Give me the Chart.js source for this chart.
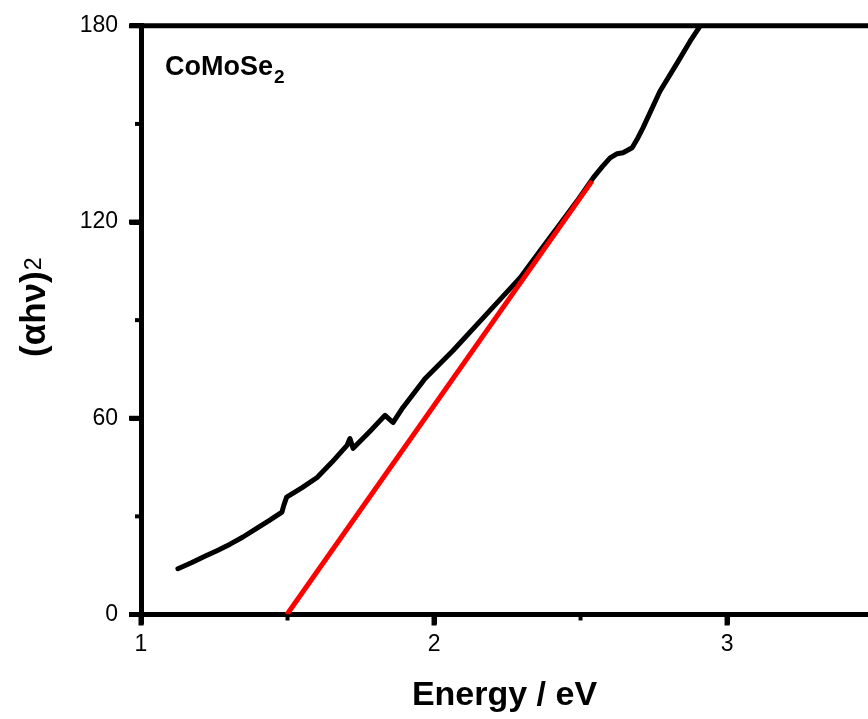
<!DOCTYPE html>
<html>
<head>
<meta charset="utf-8">
<title>CoMoSe2 Tauc plot</title>
<script src="https://cdn.jsdelivr.net/npm/chart.js@4.4.1/dist/chart.umd.min.js"></script>
<style>
  html, body { margin: 0; padding: 0; background: #fff; overflow: hidden; }
  canvas { display: block; }
</style>
</head>
<body>
<canvas id="taucChart" width="868" height="719"></canvas>
<script>
// Data
const energy = [1.126, 1.172, 1.218, 1.261, 1.304, 1.348, 1.392, 1.437, 1.481, 1.487, 1.497,
  1.550, 1.601, 1.652, 1.703, 1.713, 1.724, 1.780, 1.833, 1.860, 1.894, 1.969, 2.065,
  2.181, 2.294, 2.362, 2.430, 2.488, 2.543, 2.575, 2.601, 2.625, 2.645, 2.676, 2.693,
  2.713, 2.771, 2.829, 2.874, 2.908];
const absorption = [14.0, 15.8, 17.8, 19.6, 21.5, 23.7, 26.2, 28.7, 31.3, 33.3, 35.9,
  38.8, 41.9, 46.6, 51.7, 53.8, 50.8, 55.9, 60.9, 58.7, 63.3, 72.1, 80.7,
  92.0, 103.0, 111.2, 119.4, 126.4, 133.5, 137.0, 139.6, 140.9, 141.2, 142.7, 145.3,
  148.8, 160.0, 168.5, 175.3, 179.9];

// Linear fit (band gap extrapolation)
const fitEnergy = [1.498, 2.539];
const fitValue = [0, 132.5];

// Axis ticks
const xTicks = [1, 2, 3];
const yTicks = [0, 60, 120, 180];
const xMinor = [1.5, 2.5];
const yMinor = [30, 90, 150];

const FONT = '"Liberation Sans", Arial, Helvetica, sans-serif';

const toPoints = (xs, ys) => xs.map((x, i) => ({ x: x, y: ys[i] }));

// frame top line, tick marks, sample label and y title
const extras = {
  id: 'extras',
  afterDraw(chart) {
    const { ctx, chartArea, scales } = chart;
    ctx.save();
    ctx.strokeStyle = '#000';
    ctx.lineWidth = 5;
    ctx.beginPath();
    ctx.moveTo(chartArea.left - 2.5, chartArea.top);
    ctx.lineTo(chartArea.right, chartArea.top);
    ctx.stroke();

    const tick = (vals, len, width, axis) => {
      ctx.lineWidth = width;
      vals.forEach(v => {
        ctx.beginPath();
        if (axis === 'x') {
          const px = scales.x.getPixelForValue(v);
          ctx.moveTo(px, chartArea.bottom);
          ctx.lineTo(px, chartArea.bottom + len);
        } else {
          const py = scales.y.getPixelForValue(v);
          ctx.moveTo(chartArea.left, py);
          ctx.lineTo(chartArea.left - len, py);
        }
        ctx.stroke();
      });
    };
    tick(xTicks, 11, 5, 'x');
    tick(yTicks, 12, 5, 'y');
    tick(xMinor, 6, 4, 'x');
    tick(yMinor, 6, 4, 'y');

    // CoMoSe2 label
    ctx.fillStyle = '#000';
    ctx.textAlign = 'left';
    ctx.textBaseline = 'alphabetic';
    ctx.font = 'bold 27px ' + FONT;
    ctx.fillText('CoMoSe', 165, 75);
    const w = ctx.measureText('CoMoSe').width;
    ctx.font = 'bold 19px ' + FONT;
    ctx.fillText('2', 165 + w + 1, 83);

    // y axis title
    ctx.translate(45, 357);
    ctx.rotate(-Math.PI / 2);
    ctx.font = 'bold 35px ' + FONT;
    ctx.fillText('(\u03B1h\u03BD)', 0, 0);
    const tw = ctx.measureText('(\u03B1h\u03BD)').width;
    ctx.font = '23px ' + FONT;
    ctx.fillText('2', tw + 1, -4);
    ctx.restore();
  }
};

const ctx = document.getElementById('taucChart').getContext('2d');

new Chart(ctx, {
  type: 'line',
  data: {
    datasets: [{
      label: 'Linear fit',
      data: toPoints(fitEnergy, fitValue),
      borderColor: '#ff0000',
      borderWidth: 5,
      pointRadius: 0,
      tension: 0
    }, {
      label: 'CoMoSe2',
      data: toPoints(energy, absorption),
      borderColor: '#000000',
      borderWidth: 5,
      borderCapStyle: 'round',
      borderJoinStyle: 'round',
      pointRadius: 0,
      tension: 0
    }]
  },
  plugins: [extras],
  options: {
    responsive: false,
    animation: false,
    devicePixelRatio: 1,
    layout: { padding: { top: 24.5, right: 0, left: 0, bottom: 0 } },
    plugins: {
      legend: { display: false },
      tooltip: { enabled: false }
    },
    scales: {
      x: {
        type: 'linear',
        min: 1,
        max: 3.481,
        afterFit: s => { s.height = 104.5; },
        afterBuildTicks: s => { s.ticks = xTicks.map(v => ({ value: v })); },
        border: { display: true, color: '#000', width: 5 },
        grid: { drawOnChartArea: false, color: '#000', lineWidth: 5, tickLength: 10 },
        ticks: { color: '#000', padding: 6, font: { family: FONT, size: 23 } },
        title: {
          display: true,
          text: 'Energy / eV',
          color: '#000',
          font: { family: FONT, size: 34, weight: 'bold' },
          padding: { top: 0, bottom: 3 }
        }
      },
      y: {
        type: 'linear',
        min: 0,
        max: 180,
        afterFit: s => { s.width = 141; },
        afterBuildTicks: s => { s.ticks = yTicks.map(v => ({ value: v })); },
        border: { display: true, color: '#000', width: 5 },
        grid: { drawOnChartArea: false, color: '#000', lineWidth: 5, tickLength: 11 },
        ticks: { color: '#000', padding: 12, font: { family: FONT, size: 23 } }
      }
    }
  }
});
</script>
</body>
</html>
